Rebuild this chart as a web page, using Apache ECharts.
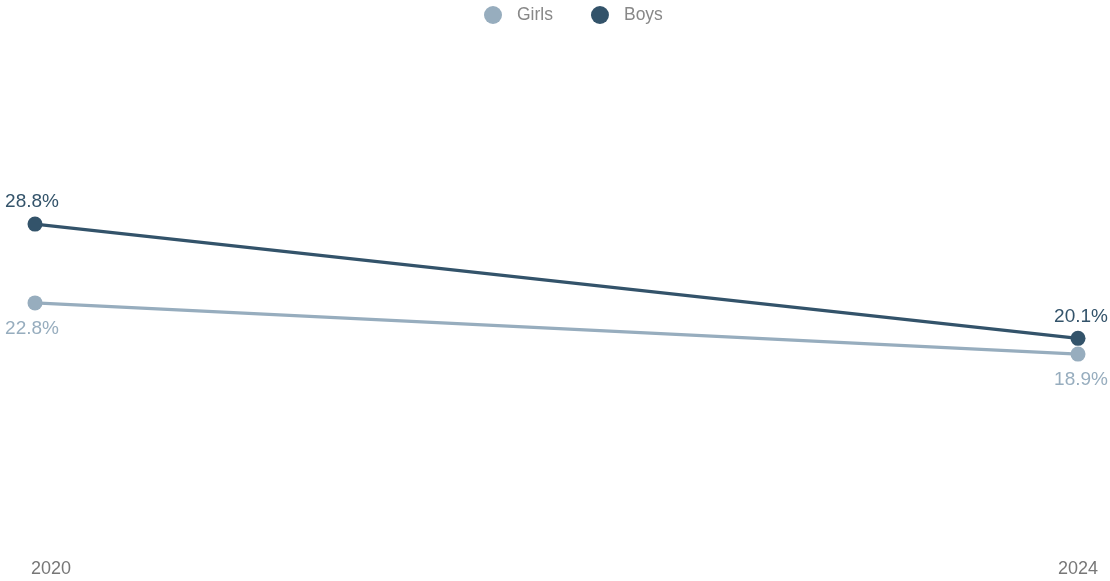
<!DOCTYPE html>
<html>
<head>
<meta charset="utf-8">
<script src="https://cdn.jsdelivr.net/npm/echarts@6/dist/echarts.min.js"></script>
<style>
  html, body { margin: 0; padding: 0; background: #fff; }
  #chart { width: 1110px; height: 581px; }
</style>
</head>
<body>
<div id="chart"></div>
<script>
// Share of children, by year
const years = ['2020', '2024'];
const girls = [22.8, 18.9];
const boys = [28.8, 20.1];

const girlsColor = '#97adbe';
const boysColor = '#33536a';
const fontFamily = '"Liberation Sans", Arial, Helvetica, sans-serif';

const chart = echarts.init(document.getElementById('chart'));

function seriesOf(name, data, color, labelPos, dist) {
  return {
    name: name,
    type: 'line',
    data: data,
    symbol: 'circle',
    symbolSize: 15,
    lineStyle: { width: 3.2, color: color },
    itemStyle: { color: color },
    label: {
      show: true,
      position: labelPos,
      distance: dist,
      color: color,
      fontSize: 19,
      fontFamily: fontFamily,
      formatter: p => p.value.toFixed(1) + '%'
    },
    // nudge end labels slightly outward
    labelLayout: p => ({ dx: p.dataIndex === 0 ? -3 : 3 }),
    emphasis: { disabled: true },
    animation: false
  };
}

chart.setOption({
  backgroundColor: '#fff',
  textStyle: { fontFamily: fontFamily },
  legend: {
    top: 1,
    left: 479,
    icon: 'circle',
    itemWidth: 18,
    itemHeight: 18,
    itemGap: 38,
    textStyle: { color: '#888', fontSize: 17.5, padding: [0, 0, 0, 10] },
    data: ['Girls', 'Boys']
  },
  grid: { left: 35, right: 32, top: 77, bottom: 110, containLabel: false },
  xAxis: {
    type: 'category',
    data: years,
    boundaryGap: false,
    axisLine: { show: false },
    axisTick: { show: false },
    splitLine: { show: false },
    axisLabel: {
      color: '#777',
      fontSize: 18,
      margin: 89,
      formatter: (v, i) => i === 0 ? '{first|' + v + '}' : v,
      rich: { first: { padding: [0, 0, 0, 32], fontSize: 18, color: '#777' } }
    }
  },
  yAxis: {
    type: 'value',
    min: 10,
    max: 40,
    show: false
  },
  series: [
    seriesOf('Girls', girls, girlsColor, 'bottom', 9),
    seriesOf('Boys', boys, boysColor, 'top', 5)
  ]
});
</script>
</body>
</html>
